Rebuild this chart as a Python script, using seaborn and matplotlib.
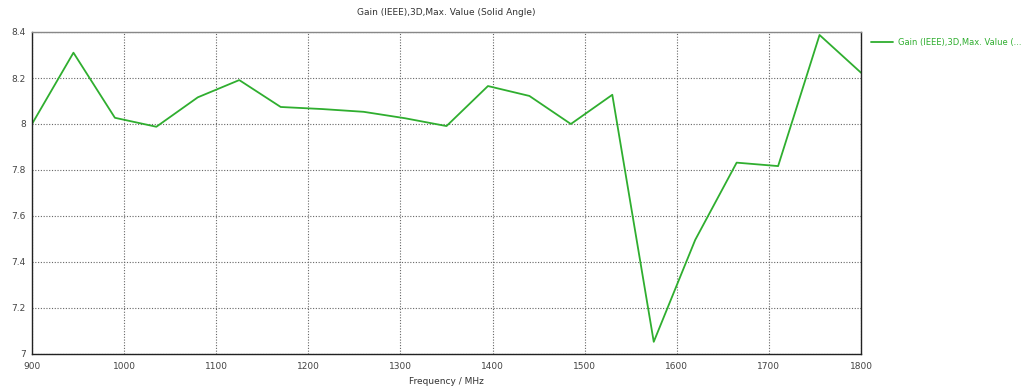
import numpy as np
import pandas as pd
import matplotlib
matplotlib.use("Agg")
import matplotlib.pyplot as plt
import seaborn as sns

frequency_mhz = [900, 945, 990, 1035, 1080, 1125, 1170, 1215, 1260, 1305, 1350,
                 1395, 1440, 1485, 1530, 1575, 1620, 1665, 1710, 1755, 1800]
gain_dbi = [8.00, 8.31, 8.027, 7.988, 8.116, 8.191, 8.074, 8.065, 8.053, 8.025, 7.991,
            8.165, 8.122, 8.000, 8.127, 7.053, 7.496, 7.832, 7.817, 8.387, 8.223]
x_ticks = [900, 1000, 1100, 1200, 1300, 1400, 1500, 1600, 1700, 1800]
y_ticks = [7.0, 7.2, 7.4, 7.6, 7.8, 8.0, 8.2, 8.4]
y_tick_labels = ["7", "7.2", "7.4", "7.6", "7.8", "8", "8.2", "8.4"]
title = "Gain (IEEE),3D,Max. Value (Solid Angle)"
legend_label = "Gain (IEEE),3D,Max. Value (..."
x_label = "Frequency / MHz"

sns.set_style("white")
plt.rcParams["font.family"] = ["DejaVu Sans"]

df = pd.DataFrame({"freq": frequency_mhz, "gain": gain_dbi})

fig = plt.figure(figsize=(10.29, 3.92), dpi=100)
ax = fig.add_axes([32 / 1029, 1 - 354 / 392, (861 - 32) / 1029, (354 - 32) / 392])

green = "#2fae2f"
sns.lineplot(data=df, x="freq", y="gain", ax=ax, color=green, linewidth=1.3,
             label=legend_label)

ax.set_xlim(900, 1800)
ax.set_ylim(7.0, 8.4)
ax.set_xticks(x_ticks)
ax.set_xticklabels([str(t) for t in x_ticks])
ax.set_yticks(y_ticks)
ax.set_yticklabels(y_tick_labels)
ax.tick_params(axis="both", labelsize=6.5, labelcolor="#444444", length=3,
               width=0.8, color="#333333", direction="inout")
ax.tick_params(axis="x", pad=4.5)
ax.tick_params(axis="y", pad=3)
ax.grid(True, linestyle=(0, (1, 1.5)), color="#666666", linewidth=0.8)

for side in ["left", "bottom", "right"]:
    ax.spines[side].set_color("#222222")
    ax.spines[side].set_linewidth(1.0)
ax.spines["top"].set_color("#888888")
ax.spines["top"].set_linewidth(1.0)

ax.set_xlabel(x_label, fontsize=6.5, color="#333333", labelpad=4)
ax.set_ylabel("")
ax.set_title(title, fontsize=6.5, color="#333333", pad=12)

leg = ax.legend(loc="upper left", bbox_to_anchor=(1.005, 1.0), frameon=False,
                fontsize=6.0, handlelength=2.6, handletextpad=0.7, borderaxespad=0.3)
for txt in leg.get_texts():
    txt.set_color(green)

fig.savefig("out.png", dpi=100)
